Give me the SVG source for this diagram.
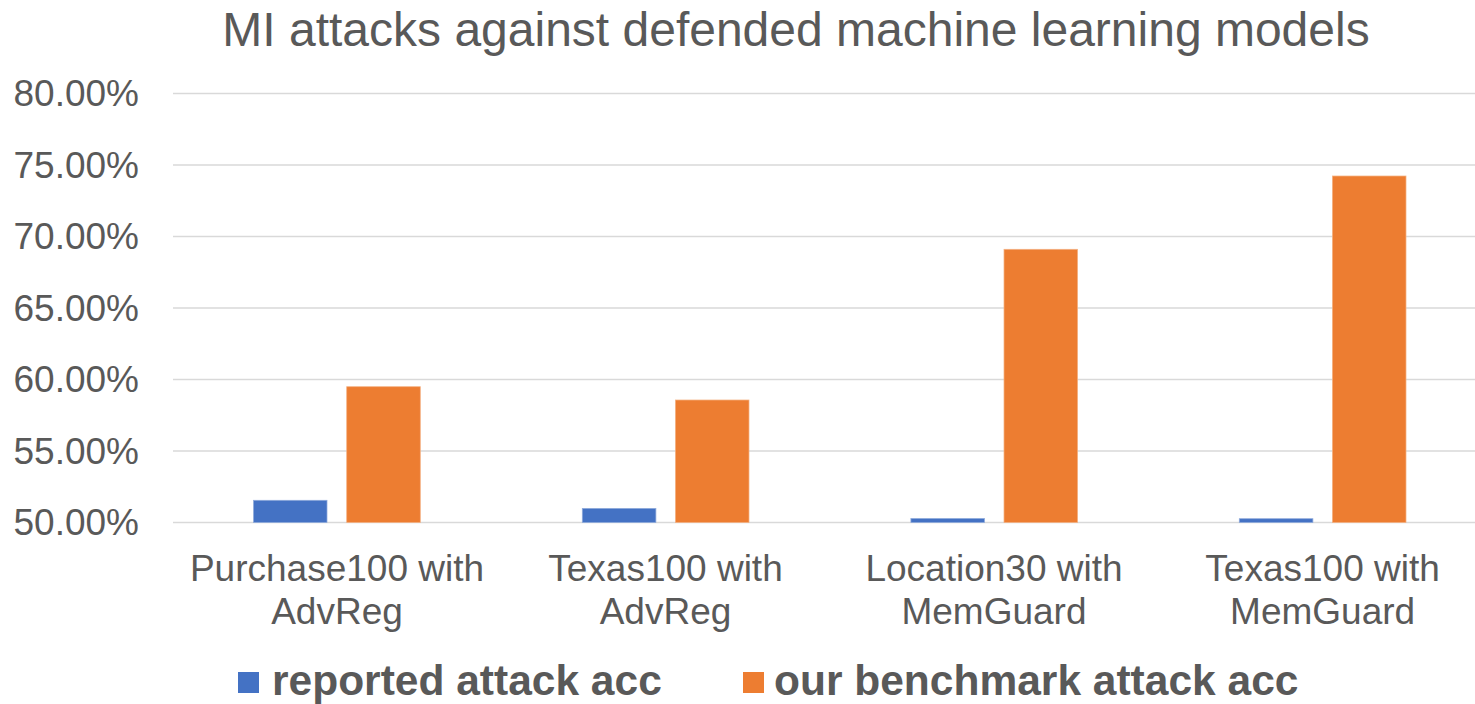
<svg xmlns="http://www.w3.org/2000/svg" width="1475" height="704" viewBox="0 0 1475 704">
<style>
  text { font-family: "Liberation Sans", Arial, sans-serif; fill: #595959; }
  .title { font-size: 48px; text-anchor: middle; }
  .ylab { font-size: 37px; text-anchor: end; }
  .xlab { font-size: 37px; text-anchor: middle; }
  .leg { font-size: 42.5px; font-weight: bold; }
  .grid { stroke: #D9D9D9; stroke-width: 1.5; }
  .s1 { fill: #4472C4; stroke: #8FAADC; stroke-width: 0.75; }
  .s2 { fill: #ED7D31; stroke: #F4B183; stroke-width: 0.75; }
</style>
<rect width="1475" height="704" fill="#FFFFFF"/>
<text class="title" x="796" y="46">MI attacks against defended machine learning models</text>
<g id="gridlines">
  <line class="grid" x1="173" y1="93.5" x2="1475" y2="93.5"/>
  <line class="grid" x1="173" y1="165" x2="1475" y2="165"/>
  <line class="grid" x1="173" y1="236.5" x2="1475" y2="236.5"/>
  <line class="grid" x1="173" y1="308" x2="1475" y2="308"/>
  <line class="grid" x1="173" y1="379.5" x2="1475" y2="379.5"/>
  <line class="grid" x1="173" y1="451" x2="1475" y2="451"/>
  <line class="grid" x1="173" y1="522.5" x2="1475" y2="522.5"/>
</g>
<g id="yaxis">
  <text class="ylab" x="139" y="106">80.00%</text>
  <text class="ylab" x="139" y="177.5">75.00%</text>
  <text class="ylab" x="139" y="249">70.00%</text>
  <text class="ylab" x="139" y="320.5">65.00%</text>
  <text class="ylab" x="139" y="392">60.00%</text>
  <text class="ylab" x="139" y="463.5">55.00%</text>
  <text class="ylab" x="139" y="535">50.00%</text>
</g>
<g id="cat1">
  <rect class="s1" x="253.5" y="500.3" width="73.5" height="22.2"/>
  <rect class="s2" x="346.7" y="386.7" width="73.6" height="135.8"/>
  <text class="xlab" x="337" y="580.5">Purchase100 with</text>
  <text class="xlab" x="337" y="623.5">AdvReg</text>
</g>
<g id="cat2">
  <rect class="s1" x="582.3" y="508.4" width="73.6" height="14.1"/>
  <rect class="s2" x="675.4" y="400" width="73.6" height="122.5"/>
  <text class="xlab" x="665.5" y="580.5">Texas100 with</text>
  <text class="xlab" x="665.5" y="623.5">AdvReg</text>
</g>
<g id="cat3">
  <rect class="s1" x="910.9" y="518.5" width="73.6" height="4"/>
  <rect class="s2" x="1004" y="249.3" width="73.6" height="273.2"/>
  <text class="xlab" x="994" y="580.5">Location30 with</text>
  <text class="xlab" x="994" y="623.5">MemGuard</text>
</g>
<g id="cat4">
  <rect class="s1" x="1239.3" y="518.7" width="73.6" height="3.8"/>
  <rect class="s2" x="1332.4" y="176" width="73.6" height="346.5"/>
  <text class="xlab" x="1322.6" y="580.5">Texas100 with</text>
  <text class="xlab" x="1322.6" y="623.5">MemGuard</text>
</g>
<g id="legend">
  <rect x="238" y="672" width="21" height="21" fill="#4472C4"/>
  <text class="leg" x="272" y="695">reported attack acc</text>
  <rect x="743" y="672" width="21" height="21" fill="#ED7D31"/>
  <text class="leg" x="774" y="695">our benchmark attack acc</text>
</g>
</svg>
